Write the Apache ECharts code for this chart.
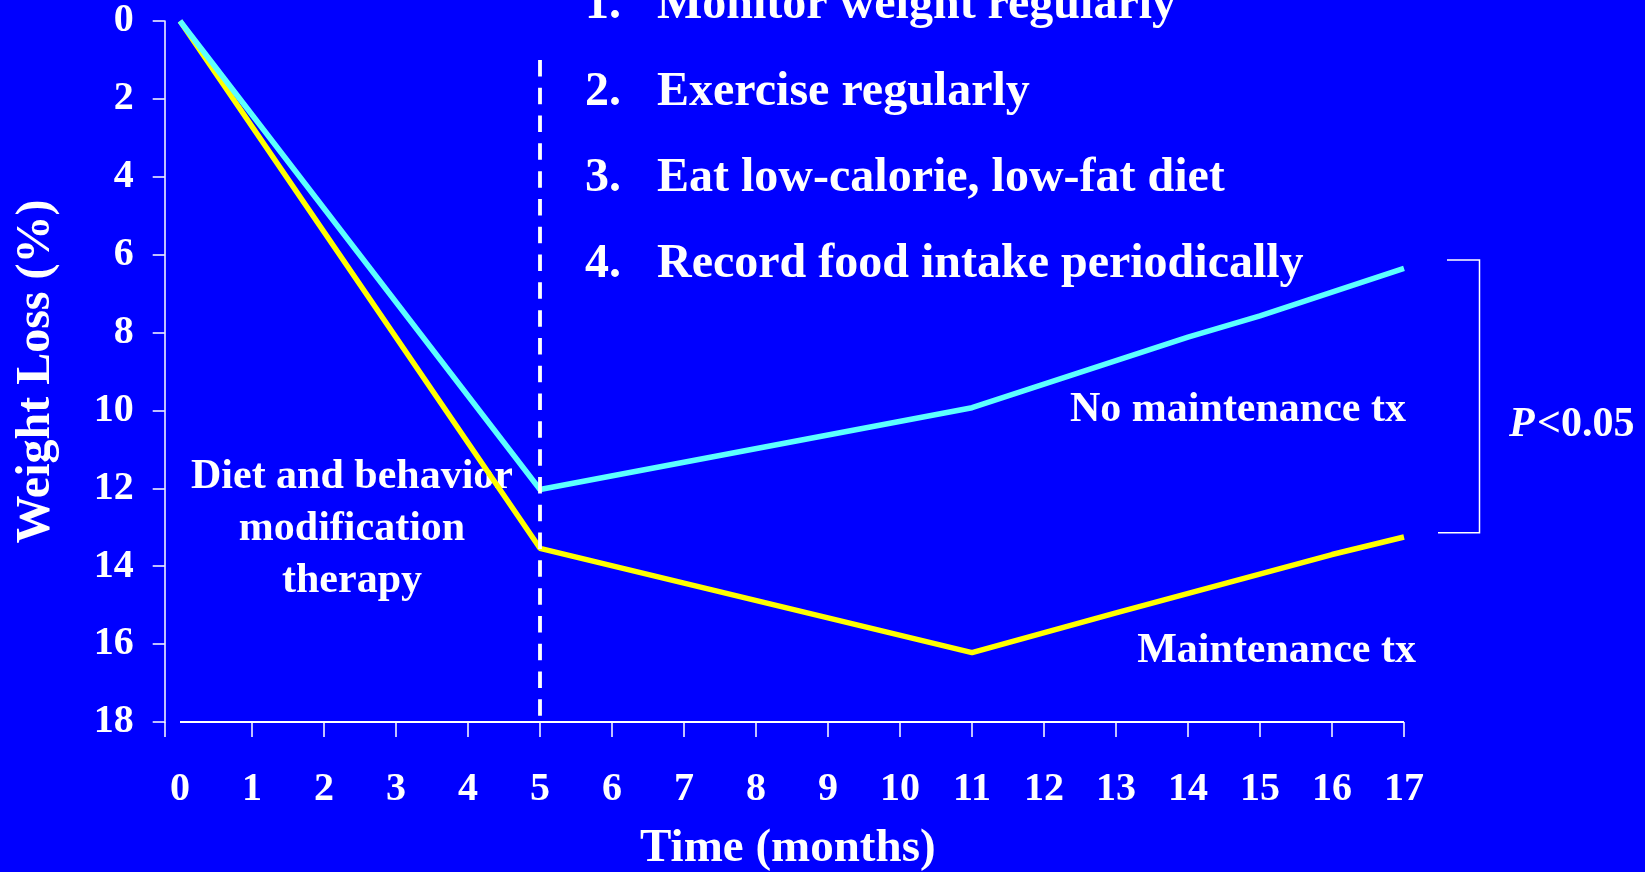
<!DOCTYPE html>
<html>
<head>
<meta charset="utf-8">
<script src="https://cdn.jsdelivr.net/npm/echarts@6/dist/echarts.min.js"></script>
<style>html,body{margin:0;padding:0;background:#0000FF;}#c{width:1645px;height:872px;}</style>
</head>
<body>
<div id="c"></div>
<script>
// ---- data ----
const noMaintMonths = [0, 5, 11, 14, 15, 17];
const noMaintLoss   = [0, 12.03, 9.93, 8.12, 7.57, 6.35];
const maintMonths   = [0, 5, 11, 13, 16, 17];
const maintLoss     = [0, 13.54, 16.22, 15.2, 13.7, 13.25];
const xTickLabels   = [0,1,2,3,4,5,6,7,8,9,10,11,12,13,14,15,16,17];
const xTickMarks    = [1,2,3,4,5,6,7,8,9,10,11,12,13,14,15,16,17];
const therapyEndMonth = 5;
const steps = ['1.', '2.', '3.', '4.'];
const stepTexts = ['Monitor weight regularly', 'Exercise regularly', 'Eat low-calorie, low-fat diet', 'Record food intake periodically'];

const FONT = '"Liberation Serif", "Times New Roman", serif';
const X_MIN = -0.2125;

const chart = echarts.init(document.getElementById('c'), null, {renderer: 'canvas'});

function pairs(xs, ys) { return xs.map((x, i) => [x, ys[i]]); }

const graphics = [];
steps.forEach((s, i) => {
  const cy = [19, 106, 192, 278][i] - 13.2;
  graphics.push({type: 'text', x: 585, y: cy, style: {text: s, fill: '#fff', fontSize: 48, fontWeight: 'bold', fontFamily: FONT, align: 'left', verticalAlign: 'middle'}});
  graphics.push({type: 'text', x: 657, y: cy, style: {text: stepTexts[i], fill: '#fff', fontSize: 48, fontWeight: 'bold', fontFamily: FONT, align: 'left', verticalAlign: 'middle'}});
});
const ann = (text, x, baseline, align) => ({type: 'text', x: x, y: baseline - 11.6, style: {text: text, fill: '#fff', fontSize: 42, fontWeight: 'bold', fontFamily: FONT, align: align, verticalAlign: 'middle'}});
graphics.push(ann('Diet and behavior', 352, 489, 'center'));
graphics.push(ann('modification', 352, 541, 'center'));
graphics.push(ann('therapy', 352, 593, 'center'));
graphics.push(ann('No maintenance tx', 1406, 422, 'right'));
graphics.push(ann('Maintenance tx', 1416, 663, 'right'));
graphics.push({type: 'text', x: 1509, y: 437 - 11.6, style: {text: 'P', fill: '#fff', fontSize: 42, fontWeight: 'bold', fontStyle: 'italic', fontFamily: FONT, align: 'left', verticalAlign: 'middle'}});
graphics.push(ann('<0.05', 1537, 437, 'left'));
graphics.push({type: 'polyline', shape: {points: [[1447, 260], [1479.5, 260], [1479.5, 532.7], [1438, 532.7]]}, style: {stroke: '#fff', lineWidth: 1.5, fill: null}});

const option = {
  animation: false,
  backgroundColor: '#0000FF',
  grid: {left: 164.7, right: 241, top: 21, bottom: 150, containLabel: false, outerBoundsMode: 'none'},
  xAxis: {
    type: 'value', min: X_MIN, max: 17, position: 'bottom',
    splitLine: {show: false},
    axisLine: {show: false, onZero: false},
    axisTick: {show: true, length: 15, customValues: [X_MIN].concat(xTickMarks), lineStyle: {color: '#fff', width: 1.5}},
    axisLabel: {customValues: xTickLabels, margin: 48, color: '#fff', fontSize: 40, fontWeight: 'bold', fontFamily: FONT},
    name: 'Time (months)', nameLocation: 'middle', nameGap: 103,
    nameTextStyle: {color: '#fff', fontSize: 47, fontWeight: 'bold', fontFamily: FONT, padding: [0, 0, 0, 7]}
  },
  yAxis: {
    type: 'value', inverse: true, min: 0, max: 18, interval: 2, position: 'left',
    splitLine: {show: false},
    axisLine: {show: true, onZero: false, lineStyle: {color: '#fff', width: 1.5}},
    axisTick: {show: true, length: 12, lineStyle: {color: '#fff', width: 1.5}},
    axisLabel: {margin: 31, color: '#fff', fontSize: 40, fontWeight: 'bold', fontFamily: FONT, padding: [3, 0, 0, 0]},
    name: 'Weight Loss (%)', nameLocation: 'middle', nameRotate: 90, nameGap: 104,
    nameTextStyle: {color: '#fff', fontSize: 48, fontWeight: 'bold', fontFamily: FONT}
  },
  series: [
    {
      name: 'Maintenance tx', type: 'line', data: pairs(maintMonths, maintLoss),
      symbol: 'none', lineStyle: {color: '#FFFF00', width: 5.5}, z: 3,
      markLine: {
        silent: true, symbol: ['none', 'none'], label: {show: false}, animation: false,
        data: [
          [{coord: [therapyEndMonth, 1], lineStyle: {color: '#fff', width: 3.8, type: [16.5, 11.3]}}, {coord: [therapyEndMonth, 18]}],
          [{coord: [xTickLabels[0], 18], lineStyle: {color: '#fff', width: 2, type: 'solid'}}, {coord: [xTickLabels[xTickLabels.length - 1], 18]}]
        ]
      }
    },
    {
      name: 'No maintenance tx', type: 'line', data: pairs(noMaintMonths, noMaintLoss),
      symbol: 'none', lineStyle: {color: '#5CFFFF', width: 5.5}, z: 4
    }
  ],
  graphic: graphics
};
chart.setOption(option);
</script>
</body>
</html>
